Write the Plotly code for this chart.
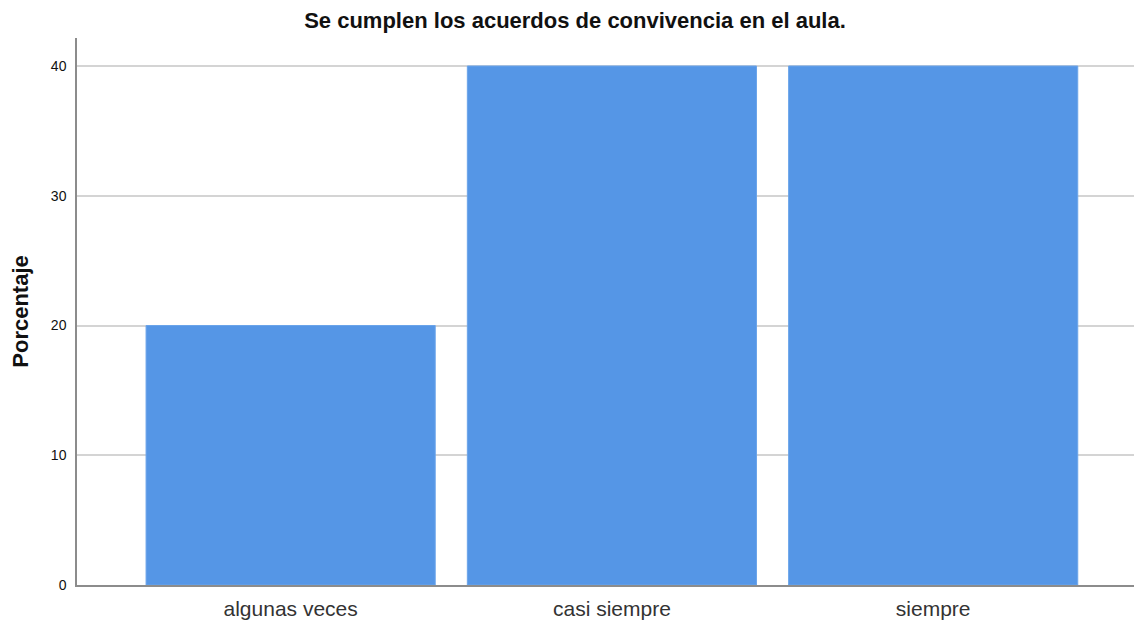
import plotly.graph_objects as go

categories = ['algunas veces', 'casi siempre', 'siempre']
porcentaje = [20, 40, 40]
y_ticks = [0, 10, 20, 30, 40]

fig = go.Figure()

fig.add_trace(go.Bar(
    x=categories,
    y=porcentaje,
    marker=dict(color='#5596e6', line=dict(color='#6aa4ea', width=1)),
    showlegend=False
))

# page body has an 8px margin, so the figure is sized to fit the window
fig.update_layout(
    width=1134,
    height=614,
    margin=dict(l=69, r=0, t=30, b=37),
    paper_bgcolor='white',
    plot_bgcolor='white',
    bargap=0.1,
    font=dict(family='Liberation Sans, Arial', color='#222'),
    title=dict(
        text='<b>Se cumplen los acuerdos de convivencia en el aula.</b>',
        x=0.5, xanchor='center', y=0.980, yanchor='middle',
        font=dict(size=22, color='#111')
    ),
    xaxis=dict(
        type='category',
        range=[-0.665, 2.65],
        showline=True, linecolor='#8c8c8c', linewidth=1.5,
        showgrid=False, ticks='', ticklabelstandoff=4,
        tickfont=dict(size=21, color='#333')
    ),
    yaxis=dict(
        range=[0, 42.16],
        tickvals=y_ticks,
        showline=True, linecolor='#8c8c8c', linewidth=1.5,
        showgrid=True, gridcolor='#d4d4d4', gridwidth=1.5,
        zeroline=False, ticks='', ticklabelstandoff=6,
        tickfont=dict(size=14, color='#111'),
        title=dict(text='<b>Porcentaje</b>', font=dict(size=22, color='#111'), standoff=20)
    )
)

fig.write_html("out.html")
